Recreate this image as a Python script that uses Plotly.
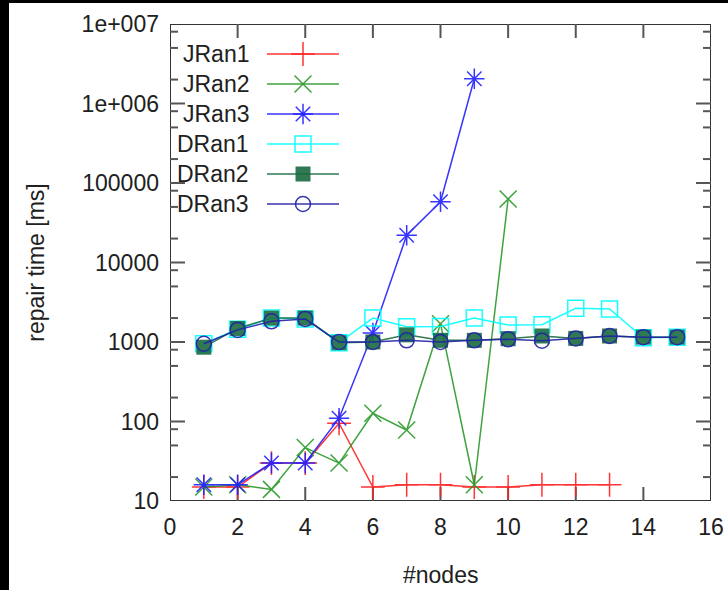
import math
import plotly.graph_objects as go

# ---------------- data ----------------
nodes = list(range(1, 16))
jran1 = [15, 15, 30, 30, 95, 15, 16, 16, 15, 15, 16, 16, 16]
jran2 = [15, 16, 14, 47, 30, 127, 78, 1700, 16, 63000]
jran3 = [16, 16, 30, 30, 110, 1300, 22000, 58000, 2050000]
dran1 = [950, 1450, 2000, 1950, 980, 2000, 1560, 1570, 2000, 1640, 1650, 2650, 2600, 1130, 1150]
dran2 = [860, 1480, 2000, 2000, 980, 1000, 1230, 1050, 1050, 1100, 1190, 1110, 1190, 1150, 1150]
dran3 = [950, 1420, 1820, 1950, 1000, 1000, 1050, 1000, 1050, 1080, 1040, 1110, 1190, 1150, 1150]

series_names = ["JRan1", "JRan2", "JRan3", "DRan1", "DRan2", "DRan3"]
series_values = [jran1, jran2, jran3, dran1, dran2, dran3]

x_ticks = [0, 2, 4, 6, 8, 10, 12, 14, 16]
y_ticks = [10, 100, 1000, 10000, 100000, 1000000, 10000000]
y_tick_text = ["10", "100", "1000", "10000", "100000", "1e+006", "1e+007"]
y_minor = [m * 10 ** e for e in range(0, 8) for m in (2, 5, 8) if 10 <= m * 10 ** e <= 1e7]

# ---------------- styles ----------------
colors = ["#ff2020", "#2a9a2a", "#2020ff", "#00ffff", "#1a6b40", "#2222a8"]
symbols = ["cross-thin", "x-thin", "asterisk", "square-open", "square", "circle-open"]
msizes = [17, 17, 17, 16, 15, 15]

FONT = "Liberation Sans, Arial, sans-serif"
FS = 23
TXT = "#202020"
FRAME = "#333333"
TICK = "#555555"

W, H = 728, 590
PL, PR, PT, PB = 170, 711, 24, 501
XR = (0, 16)
YR = (1, 7)  # log10 range
X_PER_PX = (XR[1] - XR[0]) / (PR - PL)
DEC_PER_PX = (YR[1] - YR[0]) / (PB - PT)


def px_to_x(px):
    return XR[0] + (px - PL) * X_PER_PX


def py_to_y(py):
    return 10 ** (YR[0] + (PB - py) * DEC_PER_PX)


def make_marker(s, c, ms):
    if s == "square":
        return dict(symbol=s, size=ms, color=c, line=dict(width=0))
    return dict(symbol=s, size=ms, color=c, line=dict(width=1.5, color=c))


fig = go.Figure()

# ---------------- frame + inside mirrored ticks (gnuplot style) ----------------
x0, x1 = XR
y0, y1 = 10 ** YR[0], 10 ** YR[1]
fig.add_trace(go.Scatter(
    x=[x0, x1, x1, x0, x0], y=[y0, y0, y1, y1, y0], mode="lines",
    line=dict(color=FRAME, width=2), showlegend=False, hoverinfo="skip", cliponaxis=False,
))
tx, ty = [], []
for v in y_ticks[1:-1]:
    L = 15 * X_PER_PX
    tx += [x0, x0 + L, None, x1 - L, x1, None]
    ty += [v, v, None, v, v, None]
for v in y_minor:
    L = 8 * X_PER_PX
    tx += [x0, x0 + L, None, x1 - L, x1, None]
    ty += [v, v, None, v, v, None]
f = 10 ** (14 * DEC_PER_PX)
for v in x_ticks[1:-1]:
    tx += [v, v, None, v, v, None]
    ty += [y0, y0 * f, None, y1 / f, y1, None]
fig.add_trace(go.Scatter(
    x=tx, y=ty, mode="lines", line=dict(color=TICK, width=2),
    showlegend=False, hoverinfo="skip", cliponaxis=False, connectgaps=False,
))

# ---------------- data series ----------------
for name, vals, c, s, ms in zip(series_names, series_values, colors, symbols, msizes):
    xs = nodes[: len(vals)]
    fig.add_trace(go.Scatter(
        x=xs, y=vals, mode="lines+markers", name=name,
        line=dict(color=c, width=1.5), marker=make_marker(s, c, ms),
        opacity=0.9, showlegend=False, cliponaxis=False,
    ))

# ---------------- custom legend (text right-aligned, sample on the right) ----------------
row0, row_step = 54, 30
for i, (name, c, s, ms) in enumerate(zip(series_names, colors, symbols, msizes)):
    yrow = py_to_y(row0 + i * row_step)
    fig.add_trace(go.Scatter(
        x=[px_to_x(267), px_to_x(339)], y=[yrow, yrow], mode="lines",
        line=dict(color=c, width=1.5), opacity=0.9, showlegend=False, hoverinfo="skip",
    ))
    fig.add_trace(go.Scatter(
        x=[px_to_x(303)], y=[yrow], mode="markers",
        marker=make_marker(s, c, ms), opacity=0.9, showlegend=False, hoverinfo="skip",
    ))
    fig.add_annotation(
        x=px_to_x(251), y=math.log10(yrow), text=name, showarrow=False,
        xanchor="right", yanchor="middle", font=dict(family=FONT, size=FS, color=TXT),
    )

# x-axis title placed like the original (centre ~575 px from top)
fig.add_annotation(
    x=0.5, y=(PB - 575) / (PB - PT), xref="paper", yref="paper", text="#nodes",
    showarrow=False, xanchor="center", yanchor="middle",
    font=dict(family=FONT, size=FS, color=TXT),
)

# black strips of the original screenshot
shapes = [
    dict(type="rect", xref="paper", yref="paper", xsizemode="pixel", ysizemode="pixel",
         xanchor=0, yanchor=0, x0=-PL, x1=-PL + 9, y0=-(H - PB), y1=PB,
         fillcolor="black", line=dict(width=0), layer="above"),
    dict(type="rect", xref="paper", yref="paper", xsizemode="pixel", ysizemode="pixel",
         xanchor=0, yanchor=1, x0=-PL, x1=W, y0=PT - 3, y1=PT + 2,
         fillcolor="black", line=dict(width=0), layer="above"),
]

fig.update_layout(
    template="none",
    width=W, height=H,
    margin=dict(l=PL, r=W - PR, t=PT, b=H - PB),
    paper_bgcolor="white", plot_bgcolor="white",
    xaxis=dict(
        range=list(XR), tickvals=x_ticks, ticks="",
        showline=False, showgrid=False, zeroline=False, automargin=False,
        tickfont=dict(family=FONT, size=FS, color=TXT),
        ticklabelstandoff=10,
    ),
    yaxis=dict(
        type="log", range=list(YR), tickvals=y_ticks, ticktext=y_tick_text, ticks="",
        showline=False, showgrid=False, zeroline=False, automargin=False,
        tickfont=dict(family=FONT, size=FS, color=TXT),
        ticklabelstandoff=10,
        title=dict(text="repair time [ms]", font=dict(family=FONT, size=FS, color=TXT), standoff=30),
    ),
    shapes=shapes,
)

fig.write_html("out.html")
